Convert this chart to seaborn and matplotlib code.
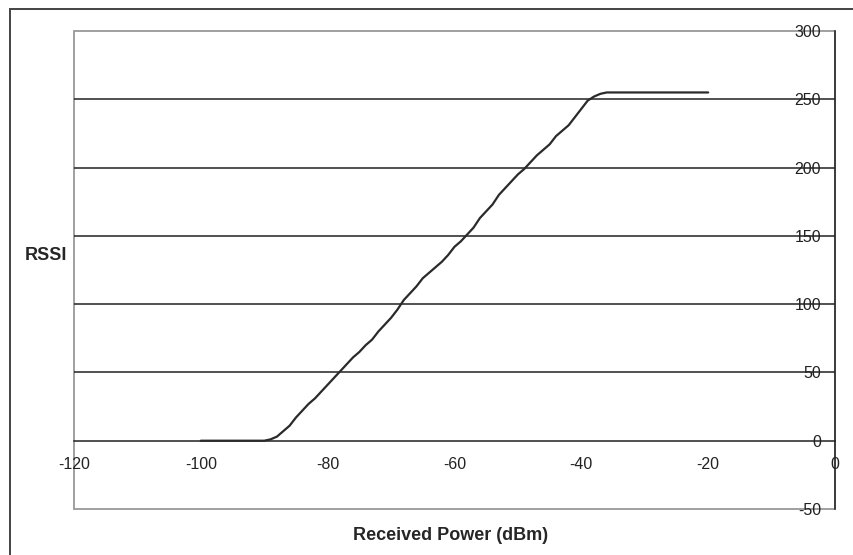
import numpy as np
import pandas as pd
import matplotlib
matplotlib.use("Agg")
import matplotlib.pyplot as plt
from matplotlib.patches import Rectangle
import seaborn as sns

# received power (dBm) and RSSI
power_dbm = [-100, -99, -98, -97, -96, -95, -94, -93, -92, -91, -90,
             -89, -88, -87, -86, -85, -84, -83, -82, -81, -80,
             -79, -78, -77, -76, -75, -74, -73, -72, -71, -70,
             -69, -68, -67, -66, -65, -64, -63, -62, -61, -60,
             -59, -58, -57, -56, -55, -54, -53, -52, -51, -50,
             -49, -48, -47, -46, -45, -44, -43, -42, -41, -40,
             -39, -38, -37, -36, -35, -30, -25, -20]
rssi = [0, 0, 0, 0, 0, 0, 0, 0, 0, 0, 0,
        1, 3, 7, 11, 17, 22, 27, 31, 36, 41,
        46, 51, 56, 61, 65, 70, 74, 80, 85, 90,
        96, 103, 108, 113, 119, 123, 127, 131, 136, 142,
        146, 151, 156, 163, 168, 173, 180, 185, 190, 195,
        199, 204, 209, 213, 217, 223, 227, 231, 237, 243,
        249, 252, 254, 255, 255, 255, 255, 255]

x_ticks = [-120, -100, -80, -60, -40, -20, 0]
y_ticks = [-50, 0, 50, 100, 150, 200, 250, 300]
grid_y = [50, 100, 150, 200, 250]

df = pd.DataFrame({"power": power_dbm, "rssi": rssi})

sns.set_style("white")
plt.rcParams["font.family"] = ["Liberation Sans", "DejaVu Sans"]
plt.rcParams["axes.unicode_minus"] = False

fig = plt.figure(figsize=(8.54, 5.55), dpi=100)
ax = fig.add_axes([74 / 854, 1 - 509 / 555, (835 - 74) / 854, (509 - 31) / 555])

# outer chart frame
fig.patches.append(Rectangle((10 / 854, -0.2), 1.2, 1.2 - 9 / 555,
                             transform=fig.transFigure, fill=False,
                             edgecolor="#444444", lw=1.4))

ax.hlines(grid_y, -120, 0, colors="#222222", lw=1.1, zorder=1)

sns.lineplot(data=df, x="power", y="rssi", ax=ax, color="#2a2a2a", lw=1.6, zorder=3)

ax.set_xlim(-120, 0)
ax.set_ylim(-50, 300)
ax.set_xticks(x_ticks)
ax.set_yticks(y_ticks)
ax.set_xlabel("")
ax.set_ylabel("")

# axes cross at zero
for side in ["top", "right"]:
    ax.spines[side].set_visible(False)
ax.spines["left"].set_position(("data", 0))
ax.spines["bottom"].set_position(("data", 0))
for side in ["left", "bottom"]:
    ax.spines[side].set_color("#222222")
    ax.spines[side].set_linewidth(1.1)

# plot area border
ax.add_patch(Rectangle((0, 0), 1, 1, transform=ax.transAxes, fill=False,
                       edgecolor="#999999", lw=1.3, zorder=0, clip_on=False))

ax.tick_params(axis="y", direction="out", length=5, width=1, pad=5,
               labelsize=11.5, colors="#222222")
ax.tick_params(axis="x", direction="out", length=4, width=1, pad=8,
               labelsize=11.5, colors="#222222")

fig.text(46 / 854, 1 - 255 / 555, "RSSI", ha="center", va="center",
         fontsize=13, fontweight="bold")
fig.text(451 / 854, 1 - 535 / 555, "Received Power (dBm)", ha="center",
         va="center", fontsize=13, fontweight="bold")

fig.savefig("out.png", dpi=100)
